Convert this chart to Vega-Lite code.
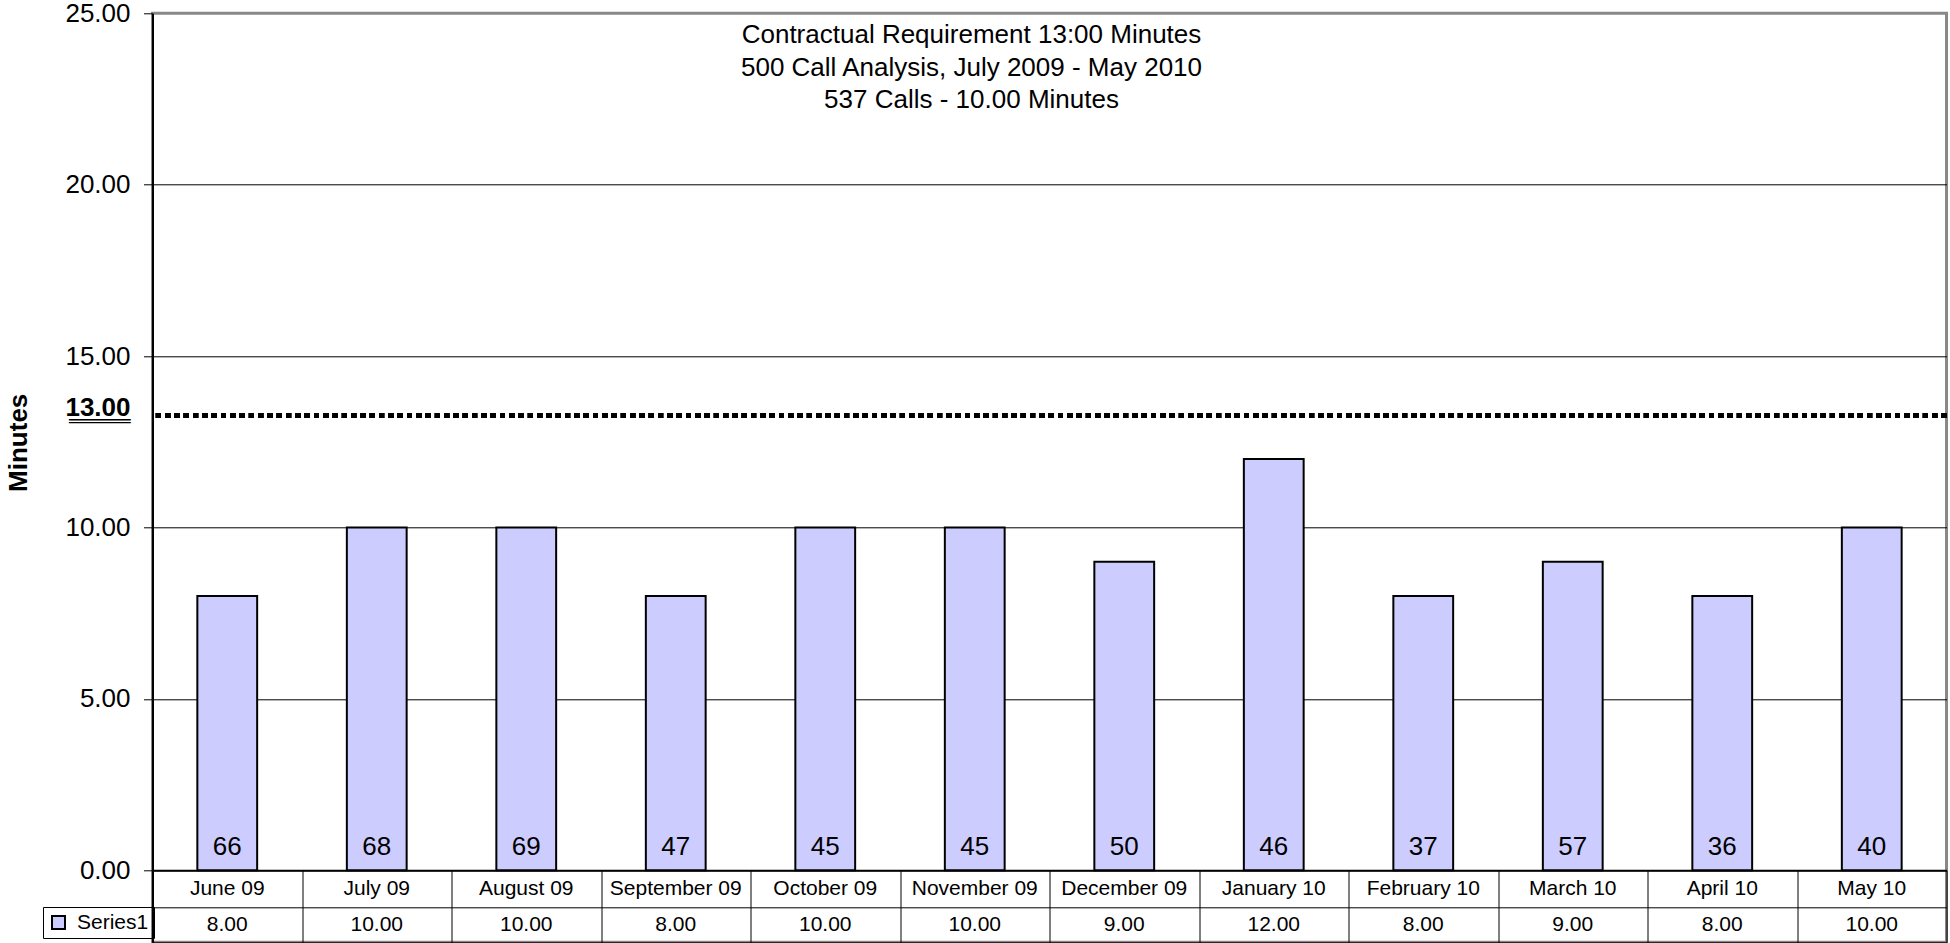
{
  "$schema": "https://vega.github.io/schema/vega-lite/v6.json",
  "autosize": "none",
  "width": 1794,
  "height": 929,
  "padding": {"left": 152.5, "top": 13.3, "right": 3.5, "bottom": 0.7},
  "background": "white",
  "config": {"font": "Liberation Sans", "view": {"stroke": "#888888", "strokeWidth": 3}},
  "title": {
    "text": ["Contractual Requirement 13:00 Minutes", "500 Call Analysis, July 2009 - May 2010", "537 Calls - 10.00 Minutes"],
    "fontSize": 26, "fontWeight": "normal", "color": "black", "lineHeight": 32.5,
    "anchor": "middle", "frame": "group", "baseline": "top", "offset": 0, "dx": -78, "dy": 113
  },
  "data": {"values": [
    {"month": "June 09", "minutes": 8, "calls": 66},
    {"month": "July 09", "minutes": 10, "calls": 68},
    {"month": "August 09", "minutes": 10, "calls": 69},
    {"month": "September 09", "minutes": 8, "calls": 47},
    {"month": "October 09", "minutes": 10, "calls": 45},
    {"month": "November 09", "minutes": 10, "calls": 45},
    {"month": "December 09", "minutes": 9, "calls": 50},
    {"month": "January 10", "minutes": 12, "calls": 46},
    {"month": "February 10", "minutes": 8, "calls": 37},
    {"month": "March 10", "minutes": 9, "calls": 57},
    {"month": "April 10", "minutes": 8, "calls": 36},
    {"month": "May 10", "minutes": 10, "calls": 40}
  ]},
  "layer": [
    {
      "mark": {"type": "bar", "stroke": "black", "strokeWidth": 2, "width": {"band": 0.4}},
      "encoding": {
        "x": {"field": "month", "type": "nominal", "sort": null,
          "scale": {"paddingInner": 0, "paddingOuter": 0},
          "axis": {"orient": "bottom", "offset": -72, "tickBand": "extent", "tickSize": 72, "labels": false, "title": null,
            "domainColor": "black", "domainWidth": 2, "tickColor": "black", "tickWidth": 1, "grid": false}},
        "y": {"field": "minutes", "type": "quantitative",
          "scale": {"domain": [-2.1, 25], "nice": false, "zero": false},
          "axis": {
            "values": [-2.1, -1.08, 0, 5, 10, 13.1, 13.27, 15, 20, 25],
            "labelExpr": "datum.value < 0 ? '' : (datum.value == 13.27 ? '13.00' : (datum.value == 13.1 ? '\u2550\u2550\u2550\u2550\u2550\u2550' : format(datum.value, '.2f')))",
            "labelColor": "black", "labelPadding": 13.5, "labelOverlap": false,
            "labelFontSize": {"condition": {"test": "datum.value == 13.1", "value": 17}, "value": 26},
            "labelFont": {"condition": {"test": "datum.value == 13.1", "value": "DejaVu Sans"}, "value": "Liberation Sans"},
            "labelFontWeight": {"condition": {"test": "datum.value == 13.27", "value": "bold"}, "value": "normal"},
            "labelBaseline": {"condition": {"test": "datum.value == 13.27", "value": "alphabetic"}, "value": "middle"},
            "tickSize": 9, "tickColor": "black", "tickWidth": 1,
            "tickOpacity": {"condition": {"test": "datum.value < 0 || datum.value == 13.27 || datum.value == 13.1", "value": 0}, "value": 1},
            "grid": true, "gridColor": "black", "gridWidth": 1,
            "gridOpacity": {"condition": {"test": "datum.value == 13.27 || datum.value == 13.1 || datum.value == 25", "value": 0}, "value": 1},
            "domainColor": "black", "domainWidth": 2,
            "title": "Minutes", "titleFontSize": 26, "titleFontWeight": "bold", "titleColor": "black",
            "titleX": -134.5, "titleY": 429, "titleAlign": "center", "titleBaseline": "middle", "titleAngle": -90
          }},
        "y2": {"datum": 0},
        "color": {"datum": "Series1", "type": "nominal", "scale": {"range": ["#CCCCFF"]},
          "legend": {"orient": "none", "legendX": -109.5, "legendY": 893.7, "title": null,
            "symbolType": "square", "symbolSize": 169, "symbolStrokeColor": "black", "symbolStrokeWidth": 2,
            "labelFontSize": 21, "labelColor": "black", "labelOffset": 8, "padding": 5,
            "labelExpr": "datum.label + '\u2002'",
            "strokeColor": "black"}}
      }
    },
    {
      "mark": {"type": "text", "fontSize": 26, "color": "black", "baseline": "alphabetic", "dy": -15},
      "encoding": {
        "x": {"field": "month", "type": "nominal", "sort": null},
        "y": {"datum": 0},
        "text": {"field": "calls"}
      }
    },
    {
      "mark": {"type": "text", "fontSize": 21, "color": "black", "baseline": "middle"},
      "encoding": {
        "x": {"field": "month", "type": "nominal", "sort": null},
        "y": {"datum": -0.54},
        "text": {"field": "month"}
      }
    },
    {
      "mark": {"type": "text", "fontSize": 21, "color": "black", "baseline": "middle"},
      "encoding": {
        "x": {"field": "month", "type": "nominal", "sort": null},
        "y": {"datum": -1.59},
        "text": {"field": "minutes", "format": ".2f"}
      }
    },
    {
      "mark": {"type": "rule", "color": "black", "strokeWidth": 5, "strokeDash": [5, 4.3]},
      "encoding": {"y": {"datum": 13.27}}
    }
  ]
}
